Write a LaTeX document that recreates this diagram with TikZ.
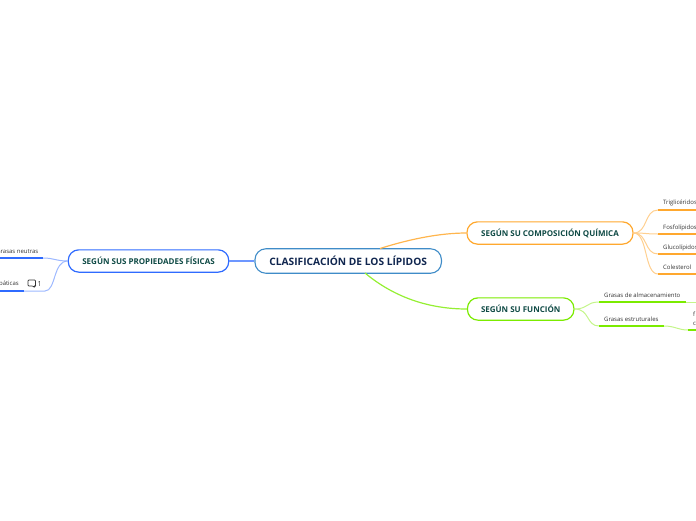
\documentclass[tikz,border=0pt]{standalone}
\usepackage{fontspec}
\setmainfont{Open Sans}
\definecolor{rootc}{HTML}{3F8CC8}
\definecolor{blu}{HTML}{2F6BFF}
\definecolor{blul}{HTML}{9DB8FF}
\definecolor{ora}{HTML}{FFA82E}
\definecolor{oral}{HTML}{FFCF8F}
\definecolor{gre}{HTML}{7BEB00}
\definecolor{grel}{HTML}{C4F58A}
\definecolor{navy}{HTML}{10264F}
\definecolor{dgreen}{HTML}{0F4A45}
\definecolor{leaf}{HTML}{333333}
\tikzset{
 rootbox/.style={draw=rootc,line width=1.1pt,rounded corners=11pt,minimum width=186.5pt,minimum height=24.5pt,inner sep=0pt,font=\fontsize{10.2}{12}\selectfont\bfseries,text=navy,fill=white},
 midbox/.style={line width=1.2pt,rounded corners=10.5pt,minimum height=22.3pt,inner sep=0pt,font=\fontsize{8}{10}\selectfont\bfseries,text=dgreen,fill=white},
 leaftxt/.style={inner sep=0pt,font=\fontsize{6}{7}\selectfont,text=leaf,anchor=base west},
 branch/.style={line width=1.2pt},
 twig/.style={line width=1pt},
 under/.style={line width=1.6pt},
}
\begin{document}
\begin{tikzpicture}[x=1pt,y=-1pt]
\useasboundingbox (0,0) rectangle (696,520);
\clip (0,0) rectangle (696,520);
\coordinate (ln) at (43,258);
\coordinate (ln0) at (0,258);
\coordinate (lh) at (24,291);
\coordinate (lh0) at (0,291);
\coordinate (lhe) at (45,291);
\coordinate (t1) at (658,210);\coordinate (t1e) at (696,210);
\coordinate (t2) at (658,234);\coordinate (t2e) at (696,234);
\coordinate (t3) at (658,254);\coordinate (t3e) at (696,254);
\coordinate (t4) at (658,274);\coordinate (t4e) at (696,274);
\coordinate (g1) at (599,302);\coordinate (g1e) at (686,302);\coordinate (g1f) at (696,302);
\coordinate (g2) at (599,326);\coordinate (g2e) at (664,326);
\coordinate (g3) at (688,330);\coordinate (g3e) at (696,330);
\node[rootbox] (root) at (348.2,261) {CLASIFICACIÓN DE LOS LÍPIDOS};
\node[midbox,draw=blu,minimum width=160.5pt] (left) at (148.5,261) {SEGÚN SUS PROPIEDADES FÍSICAS};
\node[midbox,draw=ora,minimum width=166pt] (comp) at (550,233) {SEGÚN SU COMPOSICIÓN QUÍMICA};
\node[midbox,draw=gre,minimum width=106.5pt] (func) at (520.7,309) {SEGÚN SU FUNCIÓN};
\draw[branch,blu!70] (root.west) -- (left.east);
\draw[branch,ora!85] (380,248.5) .. controls (410,239) and (440,233) .. (comp.west);
\draw[branch,gre!80] (365,273) .. controls (395,298) and (430,309) .. (func.west);
\draw[twig,blul] (left.west) .. controls (56,261) and (54,258) .. (ln);
\draw[twig,blul] (left.west) .. controls (53,261) and (56,291) .. (lhe) -- (lh);
\draw[under,blu] (ln0) -- (ln);
\draw[under,blu] (lh0) -- (lh);
\node[leaftxt,anchor=base east] (tn) at (38.5,253) {Grasas neutras};
\node[leaftxt,anchor=base east] (th) at (19,285) {Hepáticas};
\draw[line width=.7pt,leaf,rounded corners=.8pt] (28,280) -- (35.5,280) -- (35.5,286) -- (34.5,286) -- (34.5,287.5) -- (33,286) -- (28,286) -- cycle;
\node[leaftxt,font=\fontsize{7}{8}\selectfont] (cnt) at (37.5,286) {1};
\foreach \c/\e in {t1/210,t2/234,t3/254,t4/274}{
 \draw[twig,oral] (comp.east) .. controls (648,233) and (644,\e) .. (\c);
}
\foreach \c in {t1,t2,t3,t4}{\draw[under,ora] (\c) -- (\c e);}
\node[leaftxt] (a1) at (663,204.5) {Triglicéridos};
\node[leaftxt] (a2) at (663,229) {Fosfolípidos};
\node[leaftxt] (a3) at (663,249) {Glucolípidos};
\node[leaftxt] (a4) at (663,269) {Colesterol};
\draw[twig,grel] (func.east) .. controls (588,309) and (586,302) .. (g1);
\draw[twig,grel] (func.east) .. controls (590,309) and (586,326) .. (g2);
\draw[twig,grel] (g2e) .. controls (675,326) and (678,330) .. (g3);
\draw[twig,grel] (g1e) -- (g1f);
\draw[under,gre] (g1) -- (g1e);
\draw[under,gre] (g2) -- (g2e);
\draw[under,gre] (g3) -- (g3e);
\node[leaftxt] (b1) at (604,297.5) {Grasas de almacenamiento};
\node[leaftxt] (b2) at (604,321) {Grasas estruturales};
\node[leaftxt] (b3) at (693,316.5) {f};
\node[leaftxt] (b4) at (693,325.5) {c};
\end{tikzpicture}
\end{document}
